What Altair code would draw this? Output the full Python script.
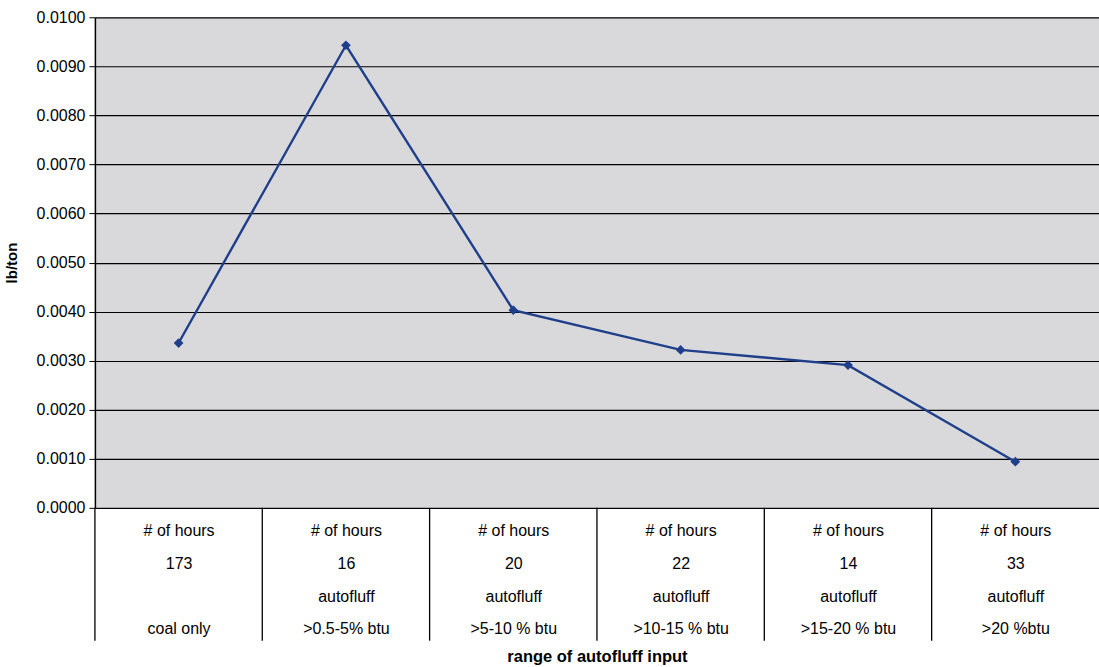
import altair as alt
import pandas as pd

# Data
hours = ["173", "16", "20", "22", "14", "33"]
kind = ["", "autofluff", "autofluff", "autofluff", "autofluff", "autofluff"]
ranges = ["coal only", ">0.5-5% btu", ">5-10 % btu", ">10-15 % btu", ">15-20 % btu", ">20 %btu"]
values = [0.00336, 0.00943, 0.00403, 0.00322, 0.00291, 0.00094]

labels = ["# of hours|" + h + "|" + (k if k else "\u200b") + "|" + r for h, k, r in zip(hours, kind, ranges)]

df = pd.DataFrame({"idx": list(range(len(values))), "value": values})
edges = pd.DataFrame({"edge": [i - 0.5 for i in range(len(values))]})

W, H = 1005, 491
label_arr = "[" + ",".join("'" + l + "'" for l in labels) + "]"
FONT = "Liberation Sans"

xscale = alt.Scale(domain=[-0.5, len(values) - 0.5], nice=False, zero=False)

line = alt.Chart(df).mark_line(
    color="#1f3f8a", strokeWidth=2.4,
    point=alt.OverlayMarkDef(shape="diamond", size=95, color="#1f3f8a", filled=True),
).encode(
    x=alt.X("idx:Q", scale=xscale,
            axis=alt.Axis(values=list(range(len(values))), labelExpr="split(" + label_arr + "[round(datum.value)], '|')",
                          tickSize=0, domain=False, grid=False, labelFontSize=16, labelFont=FONT,
                          labelColor="#000", labelLineHeight=32.7, labelPadding=15, labelBaseline="top",
                          title="range of autofluff input", titleFontSize=16.5, titleFont=FONT,
                          titleFontWeight="bold", titlePadding=12, titleColor="#000")),
    y=alt.Y("value:Q", scale=alt.Scale(domain=[0, 0.01], nice=False),
            axis=alt.Axis(values=[i / 1000 for i in range(11)], format=".4f", grid=True, gridColor="#000",
                          gridWidth=1.2, gridOpacity=1, domainColor="#000", domainWidth=1.5,
                          tickColor="#000", tickSize=6, labelFontSize=16, labelFont=FONT,
                          labelColor="#000", labelPadding=4, title="lb/ton", titleFontSize=15,
                          titleFont=FONT, titleFontWeight="bold", titleColor="#000",
                          titlePadding=17)),
)

seps = alt.Chart(edges).mark_rule(color="#000", strokeWidth=1.3).encode(
    x=alt.X("edge:Q", scale=xscale),
    y=alt.value(H),
    y2=alt.value(H + 133),
)

chart = alt.layer(seps, line).properties(
    width=W, height=H,
    autosize=alt.AutoSizeParams(type="none"),
    padding={"left": 95, "top": 17, "right": 0, "bottom": 159},
).configure_view(fill="#d9d9dc", stroke=None)

chart.save("out.html", embed_options={"renderer": "svg", "actions": False})
